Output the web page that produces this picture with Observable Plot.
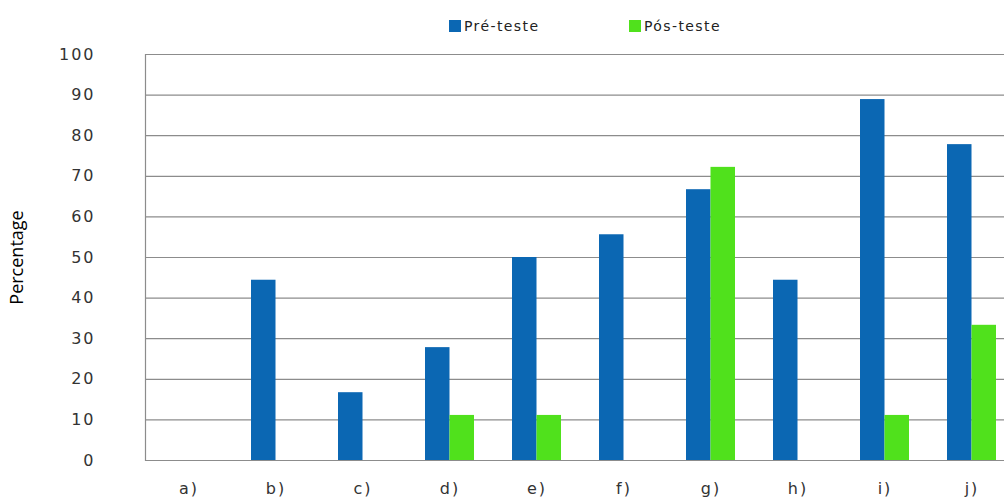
<!DOCTYPE html>
<html>
<head>
<meta charset="utf-8">
<script src="https://cdn.jsdelivr.net/npm/d3@7"></script>
<script src="https://cdn.jsdelivr.net/npm/@observablehq/plot@0.6"></script>
<style>
  html, body { margin: 0; padding: 0; background: #fff; overflow: hidden; width: 1004px; height: 502px; }
  #legend { position: relative; height: 40px; font-family: "DejaVu Sans", sans-serif; font-size: 14px; color: #222; letter-spacing: 1.4px; }
  .item { position: absolute; top: 18px; display: flex; align-items: center; }
  .sw { width: 12px; height: 12px; margin-right: 3px; }
  #chart svg { display: block; max-width: none !important; height: 462px !important; }
</style>
</head>
<body>
<div id="legend"></div>
<div id="chart"></div>
<script>
const categories = ["a)", "b)", "c)", "d)", "e)", "f)", "g)", "h)", "i)", "j)"];
const seriesNames = ["Pré-teste", "Pós-teste"];
const preTeste = [0, 44.4, 16.7, 27.8, 50, 55.6, 66.7, 44.4, 88.9, 77.8];
const posTeste = [0, 0, 0, 11.1, 11.1, 0, 72.2, 0, 11.1, 33.3];
const yTicks = [0, 10, 20, 30, 40, 50, 60, 70, 80, 90, 100];
const colors = ["#0b67b3", "#50e11c"];

const pre = categories.map((c, i) => ({cat: c, v: preTeste[i]}));
const pos = categories.map((c, i) => ({cat: c, v: posTeste[i]}));

// legend
const legend = document.getElementById("legend");
const legendX = [449, 629];
seriesNames.forEach((s, i) => {
  const d = document.createElement("div");
  d.className = "item";
  d.style.left = legendX[i] + "px";
  d.innerHTML = `<span class="sw" style="background:${colors[i]}"></span><span>${s}</span>`;
  legend.appendChild(d);
});

const W = 1015;
const chart = Plot.plot({
  width: W,
  height: 462,
  marginLeft: 145,
  marginRight: 0,
  marginTop: 14,
  marginBottom: 42,
  x: {domain: categories, padding: 0, label: null},
  y: {domain: [0, 100], ticks: yTicks, label: null},
  style: {background: "#fff", maxWidth: "none"},
  marks: [
    Plot.ruleY(yTicks, {stroke: "#8c8c8c", strokeWidth: 1.2}),
    Plot.frame({anchor: "left", stroke: "#8c8c8c", strokeWidth: 1.2}),
    Plot.barY(pre, {x: "cat", y: "v", fill: colors[0], insetLeft: 19, insetRight: 43.5}),
    Plot.barY(pos, {x: "cat", y: "v", fill: colors[1], insetLeft: 43.5, insetRight: 19}),
    Plot.axisY({ticks: yTicks, tickSize: 0, tickPadding: 50, label: null, fontSize: 16, fill: "#333", fontFamily: "DejaVu Sans", tickFormat: d => d}),
    Plot.axisX({tickSize: 0, tickPadding: 22, label: null, fontSize: 16, fill: "#333", fontFamily: "DejaVu Sans"}),
    Plot.text(["Percentage"], {frameAnchor: "left", textAnchor: "middle", rotate: -90, dx: -128, text: d => d, fontSize: 18, fontFamily: "Open Sans", fill: "#000"})
  ]
});
chart.querySelectorAll("[aria-label='x-axis tick label'] text, [aria-label='y-axis tick label'] text").forEach(t => t.setAttribute("letter-spacing", "2"));
document.getElementById("chart").appendChild(chart);
</script>
</body>
</html>
